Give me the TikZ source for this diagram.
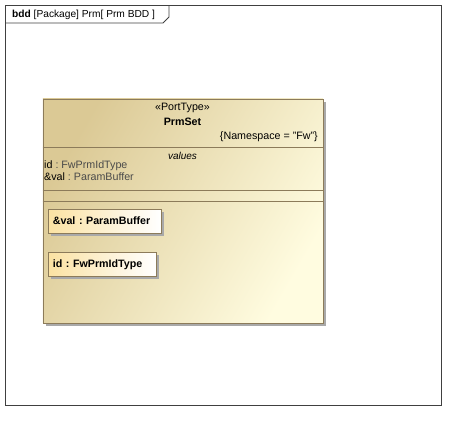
\documentclass[tikz,border=0pt]{standalone}
\usepackage{fontspec}
\setmainfont{Liberation Sans}
\frenchspacing
\usetikzlibrary{shadows}
\definecolor{frameline}{HTML}{404040}
\definecolor{blockborder}{HTML}{8C7B5A}
\definecolor{blocktan}{HTML}{DBC995}
\definecolor{blockpale}{HTML}{FFFCE0}
\definecolor{partorange}{HTML}{FBE2A2}
\definecolor{shadowgrey}{HTML}{A9A9A9}
\definecolor{typegrey}{HTML}{4A4A4A}
\tikzset{
  framebox/.style={draw=frameline, line width=0.9pt},
  blockbox/.style={draw=blockborder, line width=0.9pt, anchor=north west,
    left color=blocktan, right color=blockpale, shading angle=60,
    drop shadow={shadow xshift=3pt, shadow yshift=-3pt, fill=shadowgrey, opacity=1}},
  partbox/.style={draw=blockborder, line width=0.7pt, anchor=north west,
    left color=partorange, right color=white,
    drop shadow={shadow xshift=3pt, shadow yshift=-3pt, fill=shadowgrey, opacity=1},
    font=\fontsize{10.7}{12}\selectfont\bfseries, inner xsep=5pt, align=left},
  txt/.style={font=\fontsize{10.7}{12}\selectfont, inner sep=0pt},
  compline/.style={draw=blockborder, line width=0.7pt}
}
\begin{document}
\begin{tikzpicture}[x=1pt, y=-1pt]
\useasboundingbox (0,0) rectangle (456,421);
% frame
\draw[framebox] (5.5,5.5) rectangle (441.5,405.5);
\draw[framebox] (5.5,23) -- (163,23) -- (169,17) -- (169,5.5);
\node[txt, font=\fontsize{10.2}{12}\selectfont, anchor=base west] (hdr) at (12,17.5) {\textbf{bdd} [Package] Prm[ Prm BDD ]};
% block
\node[blockbox, minimum width=280pt, minimum height=224pt, inner sep=0pt] (blk) at (42.5,98.5) {};
\node[txt] (st) at (182.5,108) {«PortType»};
\node[txt, font=\fontsize{10.7}{12}\selectfont\bfseries] (nm) at (182.5,121.5) {PrmSet};
\node[txt, anchor=east] (ns) at (318,137) {\{Namespace = "Fw"\}};
\coordinate (l1a) at (42.5,147.5); \coordinate (l1b) at (322.5,147.5);
\coordinate (l2a) at (42.5,190.5); \coordinate (l2b) at (322.5,190.5);
\coordinate (l3a) at (42.5,201); \coordinate (l3b) at (322.5,201);
\draw[compline] (l1a) -- (l1b);
\draw[compline] (l2a) -- (l2b);
\draw[compline] (l3a) -- (l3b);
\node[txt, font=\fontsize{10}{11}\selectfont\itshape] (vals) at (182.5,156) {values};
\node[txt, anchor=west] (a1) at (44,166) {id \textcolor{typegrey}{: FwPrmIdType}};
\node[txt, anchor=west] (a2) at (44,177) {\&val \textcolor{typegrey}{: ParamBuffer}};
% parts
\node[partbox, text width=103pt, minimum height=23.5pt] (p1) at (47.5,209) {\&val : ParamBuffer};
\node[partbox, text width=98pt, minimum height=24pt] (p2) at (47.5,252) {id : FwPrmIdType};
\end{tikzpicture}
\end{document}
